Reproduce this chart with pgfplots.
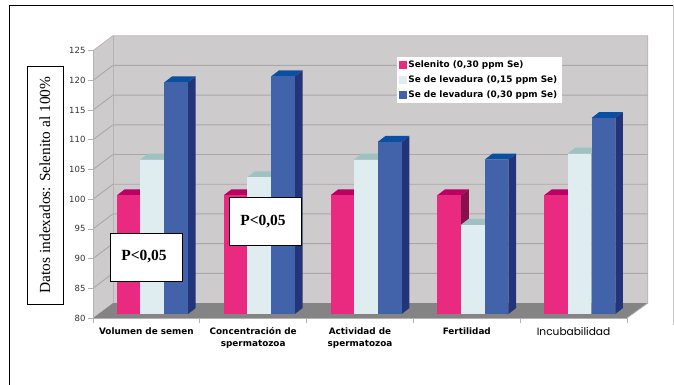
\documentclass[border=0pt]{standalone}
\usepackage{fontspec}
\usepackage{pgfplots}
\usepackage{pgfplotstable}
\pgfplotsset{compat=1.18}
\setmainfont{DejaVu Sans}
\newfontfamily\serifbox{Liberation Serif}
\newfontfamily\labelfont{Poppins}

\definecolor{wallgray}{HTML}{CDCBCC}
\definecolor{gridgray}{HTML}{A9A7A7}
\definecolor{edgegray}{HTML}{B4B3B3}
\definecolor{floorgray}{HTML}{848484}
\definecolor{pinkF}{HTML}{E92A80}
\definecolor{pinkS}{HTML}{8A0F4D}
\definecolor{pinkT}{HTML}{BA0062}
\definecolor{paleF}{HTML}{DFEDF1}
\definecolor{paleS}{HTML}{7FA5A5}
\definecolor{paleT}{HTML}{9CC3C1}
\definecolor{blueF}{HTML}{4263A9}
\definecolor{blueS}{HTML}{23357A}
\definecolor{blueT}{HTML}{0B4FA0}

% Indexed values per trait, one column per selenium source
\pgfplotstableread{
sel lowyeast highyeast
100 106 119
100 103 120
100 106 109
100  95 106
100 107 113
}\indexed

% Bar geometry in axis units: front plane is lifted above the axis plane,
% and the extrusion runs up and to the right.
\newcommand{\liftY}{0.67}
\newcommand{\depthX}{0.072}
\newcommand{\depthY}{1.0}

% One extruded bar: group, left offset, value, front, side and top colours
\newcommand{\prism}[6]{%
  \pgfmathsetmacro\xa{#1+#2}%
  \pgfmathsetmacro\xb{\xa+0.222}%
  \pgfmathsetmacro\xc{\xb+\depthX}%
  \pgfmathsetmacro\xd{\xa+\depthX}%
  \pgfmathsetmacro\ya{80+\liftY}%
  \pgfmathsetmacro\yb{#3+\liftY}%
  \pgfmathsetmacro\yc{\yb+\depthY}%
  \pgfmathsetmacro\yd{\ya+\depthY}%
  \edef\drawprism{%
    \noexpand\addplot[forget plot,fill=#5,draw=none] coordinates {(\xb,\ya)(\xc,\yd)(\xc,\yc)(\xb,\yb)} --cycle;
    \noexpand\addplot[forget plot,fill=#6,draw=none] coordinates {(\xa,\yb)(\xb,\yb)(\xc,\yc)(\xd,\yc)} --cycle;
    \noexpand\addplot[forget plot,fill=#4,draw=none] coordinates {(\xa,\ya)(\xb,\ya)(\xb,\yb)(\xa,\yb)} --cycle;
  }%
  \drawprism
}
\newcommand{\series}[5]{%
  \foreach \g in {0,...,4}{%
    \pgfplotstablegetelem{\g}{#1}\of\indexed
    \let\val\pgfplotsretval
    \prism{\g}{#2}{\val}{#3}{#4}{#5}%
  }%
}

\begin{document}
\begin{tikzpicture}[x=1pt,y=1pt]
\path[use as bounding box] (0,0) rectangle (674,385);

% Page frame
\draw[black,line width=1.1pt] (9.5,0) -- (9.5,379.5) -- (673,379.5);
\draw[gray!45,line width=0.5pt] (673,379.5) -- (673,60);

\begin{axis}[
  at={(93pt,67pt)},anchor=south west,
  width=534pt,height=267.3pt,scale only axis,
  xmin=0,xmax=5,ymin=80,ymax=125,
  clip=false,no markers,axis on top,
  axis lines*=left,axis line style={-,edgegray,line width=0.8pt},
  ytick={80,85,...,125},
  xtick={0,...,5},xticklabels={},
  extra x ticks={0.5,1.5,2.5,3.5,4.5},
  extra x tick labels={Volumen de semen,Concentración de\\spermatozoa,Actividad de\\spermatozoa,Fertilidad,{\labelfont\mdseries\fontsize{10.6}{12}\selectfont Incubabilidad}},
  extra x tick style={major tick length=0pt},
  major tick length=5pt,
  tick style={edgegray,line width=0.7pt},
  tick align=outside,
  /pgf/number format/assume math mode=true,
  y tick label style={font=\fontsize{8.5}{10}\selectfont,text=black!80,xshift=1pt},
  x tick label style={font=\fontsize{8.85}{12}\bfseries\selectfont,align=center,text=black,yshift=-6pt},
  legend cell align=left,
  legend style={
    at={(axis cs:2.84,123.95)},anchor=north west,
    draw=none,fill=white,
    font=\fontsize{8.9}{10}\bfseries\selectfont,
    inner xsep=2.5pt,inner ysep=1.8pt,
    row sep=2.7pt,
    /tikz/every even column/.append style={column sep=0pt},
  },
  legend image code/.code={\fill[#1] (0pt,-3.5pt) rectangle (7pt,3.5pt);},
]
% Walls and floor
\fill[wallgray] (axis cs:0,80) -- (axis cs:0.187,82.52) -- (axis cs:0.187,127.52) -- (axis cs:0,125) -- cycle;
\fill[wallgray] (axis cs:0.187,82.52) rectangle (axis cs:5.195,127.52);
\fill[floorgray] (axis cs:0,80) -- (axis cs:0.187,82.52) -- (axis cs:5.195,82.52) -- (axis cs:5,80) -- cycle;
\foreach \v in {85,90,...,120}{
  \edef\gridline{\noexpand\draw[gridgray,line width=0.9pt] (axis cs:0,\v) -- (axis cs:0.187,\v+2.52) -- (axis cs:5.195,\v+2.52);}
  \gridline
}
\draw[edgegray,line width=0.8pt] (axis cs:0,125) -- (axis cs:0.187,127.52) -- (axis cs:5.195,127.52) -- (axis cs:5.195,82.52) -- (axis cs:5,80);
\draw[edgegray,line width=0.8pt] (axis cs:0.187,82.52) -- (axis cs:0.187,127.52);

\series{sel}{0.225}{pinkF}{pinkS}{pinkT}
\series{lowyeast}{0.444}{paleF}{paleS}{paleT}
\series{highyeast}{0.668}{blueF}{blueS}{blueT}

\addlegendimage{pinkF,fill=pinkF}
\addlegendentry{Selenito (0,30 ppm Se)}
\addlegendimage{paleF,fill=paleF}
\addlegendentry{Se de levadura (0,15 ppm Se)}
\addlegendimage{blueF,fill=blueF}
\addlegendentry{Se de levadura (0,30 ppm Se)}
\end{axis}

% Vertical axis caption in its box
\node[draw=black,line width=0.9pt,fill=white,minimum width=36pt,minimum height=238pt,inner sep=0pt,
      font=\serifbox\fontsize{15.4}{18}\selectfont] at (45,200)
  {\rotatebox{90}{Datos indexados: Selenito al 100\%}};

% Significance callouts
\node[draw=black,line width=0.9pt,fill=white,minimum width=72pt,minimum height=48pt,inner sep=0pt] at (146,128) {};
\node[font=\serifbox\fontsize{15.5}{18}\bfseries\selectfont] at (144,128.5) {P<0,05};
\node[draw=black,line width=0.9pt,fill=white,minimum width=72pt,minimum height=48pt,inner sep=0pt] at (265,164) {};
\node[font=\serifbox\fontsize{15.5}{18}\bfseries\selectfont] at (263,163.5) {P<0,05};
\end{tikzpicture}
\end{document}
